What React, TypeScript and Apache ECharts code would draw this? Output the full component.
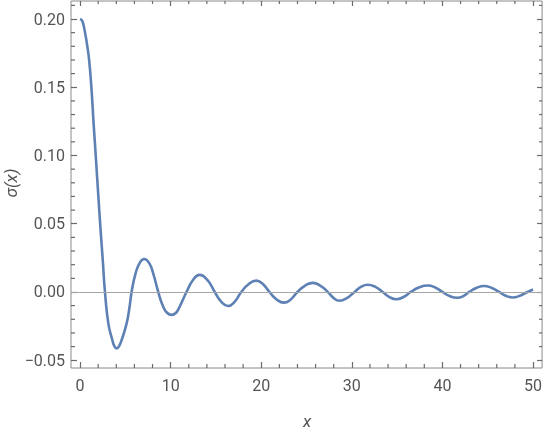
import React, { useEffect, useRef } from "react";
import * as echarts from "echarts";

// Curve samples (x, σ(x))
const xs = [
  0, 0.25, 0.55, 0.8, 1.0, 1.25, 1.5, 1.75, 2.0, 2.25, 2.5, 2.75,
  3.12, 3.56, 3.8, 4.04, 4.3, 4.59, 5.14, 5.45, 5.69, 6.13, 6.6, 7.08, 7.6, 8.07, 8.63,
  9.17, 9.6, 10.1, 10.6, 11.0, 11.75,
  12.47, 13.2, 14.05, 14.87, 15.6, 16.33, 17.05, 17.8, 18.63, 19.46, 20.18, 20.9,
  21.7, 22.5, 23.25, 24.0, 24.85, 25.7, 26.5, 27.35, 28.0, 28.65, 29.45, 30.3,
  31.0, 31.75, 32.6, 33.4, 34.15, 34.9, 35.7, 36.5, 37.4, 38.36, 39.2, 40.0,
  40.8, 41.66, 42.3, 42.95, 43.8, 44.6, 45.4, 46.26, 47.0, 47.7, 48.55, 49.4, 50.0,
];
const ys = [
  0.2, 0.1985, 0.19, 0.18, 0.17, 0.15, 0.123, 0.098, 0.072, 0.047, 0.024, 0.0,
  -0.023, -0.0352, -0.0398, -0.0413, -0.0398, -0.0352, -0.023, -0.0115, 0.0, 0.0137, 0.0215, 0.0242, 0.0215, 0.0137, 0.0,
  -0.0107, -0.0152, -0.0168, -0.0152, -0.0107, 0.0,
  0.0088, 0.0125, 0.0088, 0.0, -0.0073, -0.0103, -0.0073, 0.0, 0.0058, 0.0083, 0.0058, 0.0,
  -0.0055, -0.0078, -0.0055, 0.0, 0.0047, 0.0067, 0.0047, 0.0, -0.0045, -0.0064, -0.0045, 0.0,
  0.0037, 0.0053, 0.0037, 0.0, -0.0037, -0.0053, -0.0037, 0.0, 0.0033, 0.0047, 0.0033, 0.0,
  -0.003, -0.0042, -0.003, 0.0, 0.0031, 0.0044, 0.0031, 0.0, -0.0028, -0.004, -0.0028, 0.0, 0.0018,
];

const xMajor = [0, 10, 20, 30, 40, 50];
const yMajor = [-0.05, 0, 0.05, 0.1, 0.15, 0.2];
const xMinor: number[] = [];
for (let v = 0; v <= 50; v += 2) if (v % 10 !== 0) xMinor.push(v);
const yMinor: number[] = [];
for (let i = -5; i <= 21; i++) if (i % 5 !== 0) yMinor.push(i / 100);

const X_MIN = -1;
const X_MAX = 51;
const Y_MIN = -0.0557;
const Y_MAX = 0.2132;

const FRAME = "#8a8a8a";
const TICK = "#6a6a6a";
const LABEL = "#555555";
const FONT = "Roboto, 'Liberation Sans', sans-serif";

export default function App() {
  const ref = useRef<HTMLDivElement>(null);
  useEffect(() => {
    if (!ref.current) return;
    const chart = echarts.init(ref.current, undefined, { renderer: "svg" });
    const data = xs.map((x, i) => [x, ys[i]]);

    chart.setOption({
      animation: false,
      grid: { left: 71, right: 2, top: 1, bottom: 68, show: true, borderColor: FRAME, borderWidth: 1 },
      xAxis: [
        {
          type: "value", position: "bottom", min: X_MIN, max: X_MAX,
          axisLine: { show: false, onZero: false }, splitLine: { show: false },
          axisTick: { show: true, inside: true, length: 6, customValues: xMajor, lineStyle: { color: TICK, width: 1.2 } },
          axisLabel: { customValues: xMajor, margin: 9, color: LABEL, fontSize: 16, fontFamily: FONT, formatter: (v: number) => String(v) },
        },
        {
          type: "value", position: "top", min: X_MIN, max: X_MAX,
          axisLine: { show: false, onZero: false }, splitLine: { show: false },
          axisTick: { show: true, inside: true, length: 5, customValues: xMajor, lineStyle: { color: TICK, width: 1.2 } },
          axisLabel: { show: false },
        },
      ],
      yAxis: [
        {
          type: "value", position: "left", min: Y_MIN, max: Y_MAX,
          axisLine: { show: false, onZero: false }, splitLine: { show: false },
          axisTick: { show: true, inside: true, length: 6, customValues: yMajor, lineStyle: { color: TICK, width: 1.2 } },
          axisLabel: {
            customValues: yMajor, margin: 6, color: LABEL, fontSize: 16, fontFamily: FONT,
            formatter: (v: number) => v.toFixed(2).replace("-", "\u2212"),
          },
        },
        {
          type: "value", position: "right", min: Y_MIN, max: Y_MAX,
          axisLine: { show: false, onZero: false }, splitLine: { show: false },
          axisTick: { show: true, inside: true, length: 5, customValues: yMajor, lineStyle: { color: TICK, width: 1.2 } },
          axisLabel: { show: false },
        },
      ],
      series: [
        {
          type: "line",
          data,
          smooth: 0.5,
          showSymbol: false,
          symbol: "none",
          lineStyle: { color: "#5E81B5", width: 2.6 },
          markLine: {
            silent: true,
            symbol: "none",
            label: { show: false },
            lineStyle: { color: "#a6a6a6", width: 1, type: "solid" },
            data: [{ yAxis: 0 }],
          },
        },
      ],
    });

    // minor ticks placed through the axes' own scales
    const px = (v: number) => Number(chart.convertToPixel({ xAxisIndex: 0 }, v));
    const py = (v: number) => Number(chart.convertToPixel({ yAxisIndex: 0 }, v));
    const left = px(X_MIN), right = px(X_MAX), top = py(Y_MAX), bottom = py(Y_MIN);
    const minorLines: any[] = [];
    const ls = { stroke: TICK, lineWidth: 1.2 };
    xMinor.forEach((v) => {
      const x = px(v);
      minorLines.push({ type: "line", silent: true, z: 10, shape: { x1: x, y1: bottom, x2: x, y2: bottom - 4 }, style: ls });
      minorLines.push({ type: "line", silent: true, z: 10, shape: { x1: x, y1: top, x2: x, y2: top + 3 }, style: ls });
    });
    yMinor.forEach((v) => {
      const y = py(v);
      minorLines.push({ type: "line", silent: true, z: 10, shape: { x1: left, y1: y, x2: left + 4, y2: y }, style: ls });
      minorLines.push({ type: "line", silent: true, z: 10, shape: { x1: right, y1: y, x2: right - 3, y2: y }, style: ls });
    });

    chart.setOption({
      graphic: [
        ...minorLines,
        {
          type: "text",
          x: 307,
          y: 421,
          style: { text: "x", fill: LABEL, font: `italic 17px ${FONT}`, align: "center", verticalAlign: "middle" },
        },
        {
          type: "text",
          x: 11,
          y: 183,
          rotation: Math.PI / 2,
          style: { text: "\u03c3(x)", fill: LABEL, font: `italic 17px ${FONT}`, align: "center", verticalAlign: "middle" },
        },
      ],
    });
    return () => chart.dispose();
  }, []);
  return <div ref={ref} style={{ position: "fixed", left: 0, top: 0, width: 545, height: 436 }} />;
}
